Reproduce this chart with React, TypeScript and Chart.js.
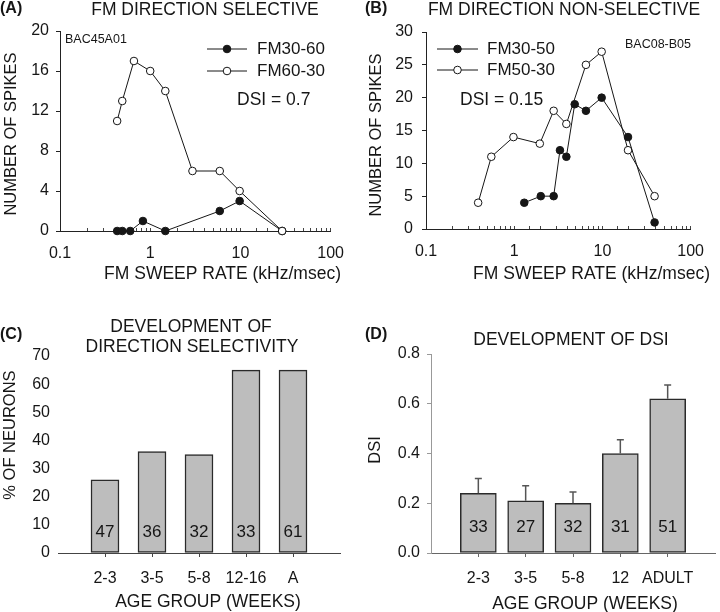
import React, { useEffect, useRef } from 'react';
import Chart from 'chart.js/auto';

const FONT = '"Liberation Sans", Arial, Helvetica, sans-serif';
const INK = '#161616';

// ---------- Panel A: FM direction selective ----------
const rateA_up = [0.43, 0.49, 0.6, 0.83, 1.47, 5.9, 9.8, 29]; // FM30-60
const spikesA_up = [0, 0, 0, 1, 0, 2, 3, 0];
const rateA_down = [0.43, 0.49, 0.66, 1, 1.47, 2.94, 5.9, 9.8, 29]; // FM60-30
const spikesA_down = [11, 13, 17, 16, 14, 6, 6, 4, 0];

// ---------- Panel B: FM direction non-selective ----------
const rateB_up = [1.3, 2, 2.8, 3.3, 3.9, 4.85, 6.5, 9.8, 19.5, 39]; // FM30-50
const spikesB_up = [4, 5, 5, 12, 11, 19, 18, 20, 14, 1];
const rateB_down = [0.39, 0.55, 0.98, 1.95, 2.8, 3.9, 6.5, 9.8, 19.5, 39]; // FM50-30
const spikesB_down = [4, 11, 14, 13, 18, 16, 25, 27, 12, 5];

const logTickLabels = ['0.1', '1', '10', '100'];
const spikesTicksA = [0, 4, 8, 12, 16, 20];
const spikesTicksB = [0, 5, 10, 15, 20, 25, 30];

// ---------- Panel C: development of direction selectivity ----------
const ageC = ['2-3', '3-5', '5-8', '12-16', 'A'];
const pctC = [26, 36, 35, 65, 65];
const nC = [47, 36, 32, 33, 61];

// ---------- Panel D: development of DSI ----------
const ageD = ['2-3', '3-5', '5-8', '12', 'ADULT'];
const dsiD = [0.24, 0.21, 0.2, 0.4, 0.62];
const errD = [0.06, 0.06, 0.045, 0.055, 0.055];
const nD = [33, 27, 32, 31, 51];

type TextItem = { t: string; x: number; y: number; size?: number; bold?: boolean; align?: CanvasTextAlign; rot?: boolean };
type LegItem = { label: string; x1: number; x2: number; tx: number; y: number; filled: boolean };

function overlay(texts: TextItem[], legend: LegItem[] = []) {
  return {
    id: 'overlay',
    afterDraw(chart: any) {
      const ctx: CanvasRenderingContext2D = chart.ctx;
      ctx.save();
      ctx.fillStyle = INK;
      ctx.textBaseline = 'middle';
      for (const it of texts) {
        ctx.font = `${it.bold ? 'bold ' : ''}${it.size ?? 17}px ${FONT}`;
        ctx.textAlign = it.align ?? 'center';
        if (it.rot) {
          ctx.save();
          ctx.translate(it.x, it.y);
          ctx.rotate(-Math.PI / 2);
          ctx.fillText(it.t, 0, 0);
          ctx.restore();
        } else {
          ctx.fillText(it.t, it.x, it.y);
        }
      }
      for (const l of legend) {
        ctx.strokeStyle = INK;
        ctx.lineWidth = 1;
        ctx.beginPath();
        ctx.moveTo(l.x1, l.y);
        ctx.lineTo(l.x2, l.y);
        ctx.stroke();
        const mx = (l.x1 + l.x2) / 2;
        ctx.beginPath();
        ctx.arc(mx, l.y, 3.8, 0, Math.PI * 2);
        ctx.fillStyle = l.filled ? INK : '#fff';
        ctx.fill();
        ctx.stroke();
        ctx.fillStyle = INK;
        ctx.font = `17px ${FONT}`;
        ctx.textAlign = 'left';
        ctx.fillText(l.label, l.tx, l.y);
      }
      ctx.restore();
    },
  };
}

function barExtras(counts: number[], countOffset: number, err?: number[], vals?: number[]) {
  return {
    id: 'barExtras',
    afterDatasetsDraw(chart: any) {
      const ctx: CanvasRenderingContext2D = chart.ctx;
      const xs = chart.scales.x;
      const ys = chart.scales.y;
      ctx.save();
      if (err && vals) {
        ctx.strokeStyle = '#555';
        ctx.lineWidth = 1.5;
        err.forEach((e, i) => {
          const x = xs.getPixelForValue(i + 1);
          const y0 = ys.getPixelForValue(vals[i]);
          const y1 = ys.getPixelForValue(vals[i] + e);
          ctx.beginPath();
          ctx.moveTo(x, y0);
          ctx.lineTo(x, y1);
          ctx.moveTo(x - 3.5, y1);
          ctx.lineTo(x + 3.5, y1);
          ctx.stroke();
        });
      }
      ctx.fillStyle = INK;
      ctx.font = `17px ${FONT}`;
      ctx.textAlign = 'center';
      ctx.textBaseline = 'middle';
      counts.forEach((n, i) => {
        const x = xs.getPixelForValue(i + 1);
        ctx.fillText(String(n), x, ys.bottom - countOffset);
      });
      ctx.restore();
    },
  };
}

const tickFont = { family: FONT, size: 16 };

function lineDataset(label: string, xs: number[], ys: number[], filled: boolean) {
  return {
    label,
    data: xs.map((x, i) => ({ x, y: ys[i] })),
    borderColor: INK,
    borderWidth: 1,
    backgroundColor: filled ? INK : '#fff',
    pointBackgroundColor: filled ? INK : '#fff',
    pointBorderColor: INK,
    pointBorderWidth: 1,
    pointRadius: 3.8,
    tension: 0,
    clip: false,
  };
}

function logXScale(height: number) {
  return {
    type: 'logarithmic',
    min: 0.1,
    max: 100,
    position: 'bottom',
    afterFit: (s: any) => { s.height = height; },
    border: { color: '#222', width: 1 },
    grid: { drawOnChartArea: false, drawTicks: true, tickLength: -3, color: '#444' },
    ticks: {
      autoSkip: false,
      maxRotation: 0,
      minRotation: 0,
      padding: 16,
      font: tickFont,
      color: INK,
      callback: (v: number) => {
        const l = logTickLabels.find((s) => Math.abs(Math.log10(parseFloat(s)) - Math.log10(v)) < 1e-6);
        return l ?? '';
      },
    },
  };
}

function spikesYScale(max: number, ticks: number[], width: number, padding: number) {
  return {
    min: 0,
    max,
    afterFit: (s: any) => { s.width = width; },
    afterBuildTicks: (s: any) => { s.ticks = ticks.map((v) => ({ value: v })); },
    border: { color: '#222', width: 1 },
    grid: { drawOnChartArea: false, drawTicks: true, tickLength: 4, color: '#222' },
    ticks: { padding, font: tickFont, color: INK },
  };
}

function configA() {
  return {
    type: 'line',
    data: {
      datasets: [
        lineDataset('FM60-30', rateA_down, spikesA_down, false),
        lineDataset('FM30-60', rateA_up, spikesA_up, true),
      ],
    },
    options: {
      responsive: false,
      animation: false,
      layout: { padding: { left: 0, top: 31, right: 20, bottom: 0 }, autoPadding: false },
      plugins: { legend: { display: false }, tooltip: { enabled: false } },
      scales: { x: logXScale(69), y: spikesYScale(20, spikesTicksA, 60, 7) },
    },
    plugins: [
      overlay(
        [
          { t: '(A)', x: 0, y: 9, size: 16, bold: true, align: 'left' },
          { t: 'FM DIRECTION SELECTIVE', x: 205, y: 10, size: 17.5 },
          { t: 'BAC45A01', x: 65, y: 40, size: 12.5, align: 'left' },
          { t: 'DSI = 0.7', x: 237, y: 100, size: 17.5, align: 'left' },
          { t: 'NUMBER OF SPIKES', x: 11, y: 134, size: 16.5, rot: true },
          { t: 'FM SWEEP RATE (kHz/msec)', x: 341, y: 274, size: 17.5, align: 'right' },
        ],
        [
          { label: 'FM30-60', x1: 207, x2: 247, tx: 257, y: 49, filled: true },
          { label: 'FM60-30', x1: 207, x2: 247, tx: 257, y: 71, filled: false },
        ]
      ),
    ],
  };
}

function configB() {
  return {
    type: 'line',
    data: {
      datasets: [
        lineDataset('FM30-50', rateB_up, spikesB_up, true),
        lineDataset('FM50-30', rateB_down, spikesB_down, false),
      ],
    },
    options: {
      responsive: false,
      animation: false,
      layout: { padding: { left: 0, top: 32, right: 14, bottom: 0 }, autoPadding: false },
      plugins: { legend: { display: false }, tooltip: { enabled: false } },
      scales: { x: logXScale(71), y: spikesYScale(30, spikesTicksB, 66, 9) },
    },
    plugins: [
      overlay(
        [
          { t: '(B)', x: 5, y: 9, size: 16, bold: true, align: 'left' },
          { t: 'FM DIRECTION NON-SELECTIVE', x: 204, y: 10, size: 17.5 },
          { t: 'BAC08-B05', x: 265, y: 45, size: 12.5, align: 'left' },
          { t: 'DSI = 0.15', x: 100, y: 100, size: 17.5, align: 'left' },
          { t: 'NUMBER OF SPIKES', x: 16, y: 135, size: 16.5, rot: true },
          { t: 'FM SWEEP RATE (kHz/msec)', x: 350, y: 274, size: 17.5, align: 'right' },
        ],
        [
          { label: 'FM30-50', x1: 77, x2: 118, tx: 127, y: 49, filled: true },
          { label: 'FM50-30', x1: 77, x2: 118, tx: 127, y: 70, filled: false },
        ]
      ),
    ],
  };
}

function barXScale(labels: string[], color: string) {
  return {
    type: 'linear',
    min: 0,
    max: 6,
    offset: false,
    afterFit: (s: any) => { s.height = 59; },
    afterBuildTicks: (s: any) => { s.ticks = labels.map((_, i) => ({ value: i + 1 })); },
    border: { color, width: 1 },
    grid: { drawOnChartArea: false, drawTicks: true, tickLength: 4, color, offset: false },
    ticks: {
      autoSkip: false,
      maxRotation: 0,
      padding: 12,
      font: tickFont,
      color: INK,
      callback: (v: number) => labels[Math.round(v) - 1] ?? '',
    },
  };
}

function configC() {
  return {
    type: 'bar',
    data: {
      datasets: [
        {
          data: pctC.map((y, i) => ({ x: i + 1, y })),
          backgroundColor: '#bdbdbd',
          borderColor: '#2a2a2a',
          borderWidth: 1.5,
          borderSkipped: false,
          barThickness: 28,
        },
      ],
    },
    options: {
      responsive: false,
      animation: false,
      layout: { padding: { left: 0, top: 56, right: 20, bottom: 0 }, autoPadding: false },
      plugins: { legend: { display: false }, tooltip: { enabled: false } },
      scales: {
        x: barXScale(ageC, '#444'),
        y: {
          min: 0,
          max: 70,
          afterFit: (s: any) => { s.width = 58; },
          border: { display: false },
          grid: { drawOnChartArea: false, drawTicks: false },
          ticks: { stepSize: 10, padding: 8, font: tickFont, color: INK },
        },
      },
    },
    plugins: [
      barExtras(nC, 21),
      overlay([
        { t: '(C)', x: 0, y: 35, size: 16, bold: true, align: 'left' },
        { t: 'DEVELOPMENT OF', x: 191, y: 27, size: 17.5 },
        { t: 'DIRECTION SELECTIVITY', x: 192, y: 47, size: 17.5 },
        { t: '% OF NEURONS', x: 10, y: 135, size: 16.5, rot: true },
        { t: 'AGE GROUP (WEEKS)', x: 208, y: 302, size: 17.5 },
      ]),
    ],
  };
}

function configD() {
  return {
    type: 'bar',
    data: {
      datasets: [
        {
          data: dsiD.map((y, i) => ({ x: i + 1, y })),
          backgroundColor: '#bdbdbd',
          borderColor: '#2a2a2a',
          borderWidth: 1.5,
          borderSkipped: false,
          barThickness: 36,
        },
      ],
    },
    options: {
      responsive: false,
      animation: false,
      layout: { padding: { left: 0, top: 54, right: 5, bottom: 0 }, autoPadding: false },
      plugins: { legend: { display: false }, tooltip: { enabled: false } },
      scales: {
        x: barXScale(ageD, '#666'),
        y: {
          min: 0,
          max: 0.8,
          afterFit: (s: any) => { s.width = 71; },
          border: { color: '#999', width: 1 },
          grid: { drawOnChartArea: false, drawTicks: true, tickLength: 4, color: '#999' },
          ticks: { stepSize: 0.2, padding: 7, font: tickFont, color: INK, callback: (v: number) => v.toFixed(1) },
        },
      },
    },
    plugins: [
      barExtras(nD, 26, errD, dsiD),
      overlay([
        { t: '(D)', x: 5, y: 35, size: 16, bold: true, align: 'left' },
        { t: 'DEVELOPMENT OF DSI', x: 211, y: 40, size: 17.5 },
        { t: 'DSI', x: 15, y: 150, size: 16.5, rot: true },
        { t: 'AGE GROUP (WEEKS)', x: 225, y: 304, size: 17.5 },
      ]),
    ],
  };
}

function Panel({ make, left, top, width, height }: { make: () => any; left: number; top: number; width: number; height: number }) {
  const ref = useRef<HTMLCanvasElement>(null);
  useEffect(() => {
    const chart = new Chart(ref.current as HTMLCanvasElement, make());
    return () => chart.destroy();
  }, []);
  return (
    <div style={{ position: 'absolute', left, top, width, height }}>
      <canvas ref={ref} width={width} height={height} style={{ display: 'block', width, height }} />
    </div>
  );
}

export default function App() {
  return (
    <div style={{ position: 'absolute', left: 0, top: 0, width: 720, height: 612, background: '#fff', overflow: 'hidden' }}>
      <Panel make={configA} left={0} top={0} width={360} height={300} />
      <Panel make={configB} left={360} top={0} width={360} height={300} />
      <Panel make={configC} left={0} top={300} width={360} height={312} />
      <Panel make={configD} left={360} top={300} width={360} height={312} />
    </div>
  );
}
